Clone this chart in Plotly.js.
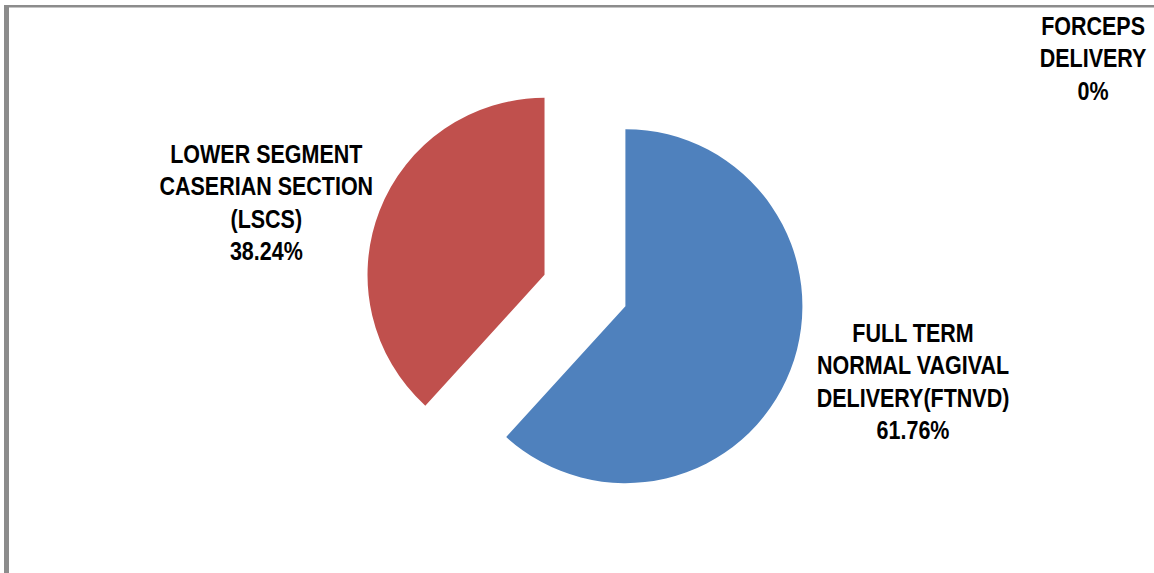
<!DOCTYPE html>
<html>
<head>
<meta charset="utf-8">
<script src="https://cdn.plot.ly/plotly-3.0.1.min.js"></script>
<style>
html,body{margin:0;padding:0;background:#fff;}
#chart{width:1154px;height:573px;}
#chart .annotation-text{transform-box:fill-box;transform-origin:center;transform:scale(0.86,1);}
</style>
</head>
<body>
<div id="chart"></div>
<script>
const categories = [
  "FULL TERM<br>NORMAL VAGIVAL<br>DELIVERY(FTNVD)",
  "LOWER SEGMENT<br>CASERIAN SECTION<br>(LSCS)",
  "FORCEPS<br>DELIVERY"
];
const values = [61.76, 38.24, 0];
const colors = ["#4F81BD", "#C0504D", "#9BBB59"];
const labelPos = [[913, 382], [266, 203], [1093, 58]];

const W = 1154, H = 573;
const font = {family: "'Liberation Sans', Arial, sans-serif", size: 25, color: "#000", weight: 700};

function pct(v) { return (Math.round(v * 100) / 100) + "%"; }

const trace = {
  type: "pie",
  values: values,
  labels: categories,
  marker: {colors: colors, line: {width: 0}},
  sort: false,
  direction: "clockwise",
  rotation: 0,
  pull: [0.245, 0.245, 0],
  textinfo: "none",
  hoverinfo: "label+percent",
  domain: {x: [0.2069, 0.8069], y: [0.1084, 0.8776]},
  showlegend: false
};

const annotations = categories.map((c, i) => ({
  xref: "paper", yref: "paper",
  x: labelPos[i][0] / W, y: 1 - labelPos[i][1] / H,
  xanchor: "center", yanchor: "middle",
  text: c + "<br>" + pct(values[i]),
  showarrow: false, align: "center",
  font: font
}));

const layout = {
  width: W, height: H,
  margin: {l: 0, r: 0, t: 0, b: 0},
  paper_bgcolor: "#fff",
  showlegend: false,
  annotations: annotations,
  shapes: [
    {type: "rect", xref: "paper", yref: "paper", x0: 4 / W, x1: 9 / W, y0: 0, y1: 1 - 5 / H, fillcolor: "#8c8c8c", line: {width: 0}},
    {type: "rect", xref: "paper", yref: "paper", x0: 4 / W, x1: 1, y0: 1 - 7.5 / H, y1: 1 - 5 / H, fillcolor: "#8c8c8c", line: {width: 0}}
  ]
};

Plotly.newPlot("chart", [trace], layout, {displayModeBar: false, staticPlot: true});
</script>
</body>
</html>
